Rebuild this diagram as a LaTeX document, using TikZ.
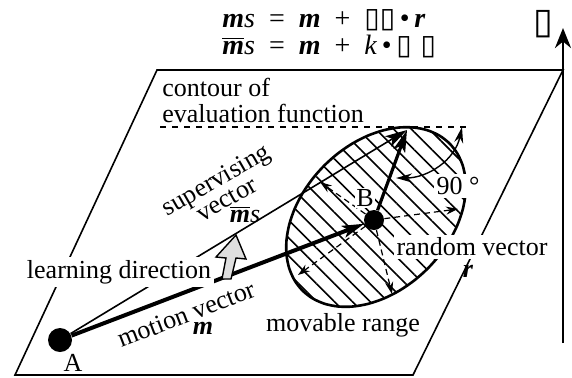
\documentclass[tikz,border=0pt]{standalone}
\usepackage{fontspec}
\setmainfont{Liberation Serif}
\newfontfamily\boxfont{DejaVu Sans}
\usetikzlibrary{arrows.meta,patterns.meta}

\newcommand{\bvec}[1]{\textbf{\textit{#1}}}

\begin{document}
\begin{tikzpicture}[x=0.5pt,y=-0.5pt,>=Stealth,
    font=\fontsize{13}{13}\selectfont,
    lbl/.style={inner sep=1pt},
    wlbl/.style={fill=white,inner sep=1.5pt},
    rvec/.style={densely dashed,line width=0.6pt,-{Stealth[length=6pt,width=4pt]}},
    bigvec/.style={-{Stealth[length=11pt,width=6pt,inset=2.5pt]}}]
    \useasboundingbox (0,0) rectangle (572,377);
    % plane
    \coordinate (p1) at (157,70);
    \coordinate (p2) at (563,70);
    \coordinate (p3) at (413,375);
    \coordinate (p4) at (15,375);
    \draw[line width=0.8pt] (p1) -- (p2) -- (p3) -- (p4) -- cycle;
    % contour of evaluation function
    \coordinate (c1) at (160,127);
    \coordinate (c2) at (470,127);
    \draw[dashed,line width=0.7pt] (c1) -- (c2);
    % movable range
    \draw[line width=1.3pt,pattern={Lines[angle=-45,distance=6.3pt,line width=0.8pt]}]
        plot[smooth cycle,domain=0:350,samples=36]
        ({376+0.707*(104*cos(\x)+73*sin(\x))},{217+0.707*(-104*cos(\x)+73*sin(\x))});
    % points
    \node[circle,fill,inner sep=0pt,minimum size=12pt] (A) at (60,340) {};
    \node[circle,fill,inner sep=0pt,minimum size=10pt] (B) at (374,220) {};
    \coordinate (T) at (407,130);
    % random vectors
    \coordinate (r1) at (320,182);
    \coordinate (r2) at (458,209);
    \coordinate (r3) at (298,275);
    \coordinate (r4) at (392,294);
    \foreach \r in {r1,r2,r3,r4}
        \draw[rvec] (B) -- (\r);
    % vectors
    \draw[line width=0.8pt,bigvec] (A) -- (T);
    \draw[line width=1.6pt,bigvec] (B) -- (T);
    \draw[line width=2pt,bigvec] (A) -- (B);
    % labels
    \node[lbl] (Alab) at (73,363) {A};
    \node[fill=white,inner sep=0.5pt] (Blab) at (365,198) {B};
    \node[lbl,align=left,anchor=north west] (contour) at (160,76) {contour of\\evaluation function};
    \node[wlbl] (learn) at (119,272) {learning direction};
    \node[lbl,rotate=21] (motion) at (186,314) {motion vector};
    \node[lbl] (mlab) at (203,328) {\bvec{m}};
    \node[lbl,rotate=30,align=center,font=\fontsize{13}{10}\selectfont] (superv) at (221,189)
        {supervising\\vector};
    \node[lbl] (mslab) at (245,214) {$\overline{\mbox{\bvec{m}}}$\textit{s}};
    \node[lbl] (range) at (343,325) {movable range};
    \node[wlbl] (rand) at (472,247) {random vector};
    \node[lbl] (rlab) at (468,271) {\bvec{r}};
    \node[wlbl] (ang) at (458,186) {90 °};
    % right angle
    \coordinate (a1) at (396,178);
    \coordinate (a2) at (462,127);
    \draw[line width=0.7pt,{Stealth[length=8pt,width=4.5pt]}-{Stealth[length=8pt,width=4.5pt]}]
        (a1) .. controls (428,178) and (455,160) .. (a2);
    % learning direction arrow
    \draw[fill=gray!25,line width=0.7pt] (236,235) -- (246,259) -- (236,258) -- (231,279)
        -- (222,279) -- (226,258) -- (216,257) -- cycle;
    % evaluation axis
    \coordinate (z0) at (563,343);
    \coordinate (z1) at (563,28);
    \draw[line width=1.4pt,-{Stealth[length=10pt,width=8pt]}] (z0) -- (z1);
    \node[inner sep=0pt] (zlab) at (543,24) {\boxfont\fontsize{18}{18}\selectfont ▯};
    % formulas
    \node[anchor=west,inner sep=0pt,font=\fontsize{14}{14}\selectfont] (eq1) at (222,20)
        {\bvec{m}\textit{s}\ \ =\ \ \bvec{m}\ \ +\ \ {\boxfont ▯▯}\,•\,\bvec{r}};
    \node[anchor=west,inner sep=0pt,font=\fontsize{14}{14}\selectfont] (eq2) at (222,46)
        {$\overline{\mbox{\bvec{m}}}$\textit{s}\ \ =\ \ \bvec{m}\ \ +\ \ \textit{k}\,•\,{\boxfont\itshape ▯\ ▯}};
\end{tikzpicture}
\end{document}
